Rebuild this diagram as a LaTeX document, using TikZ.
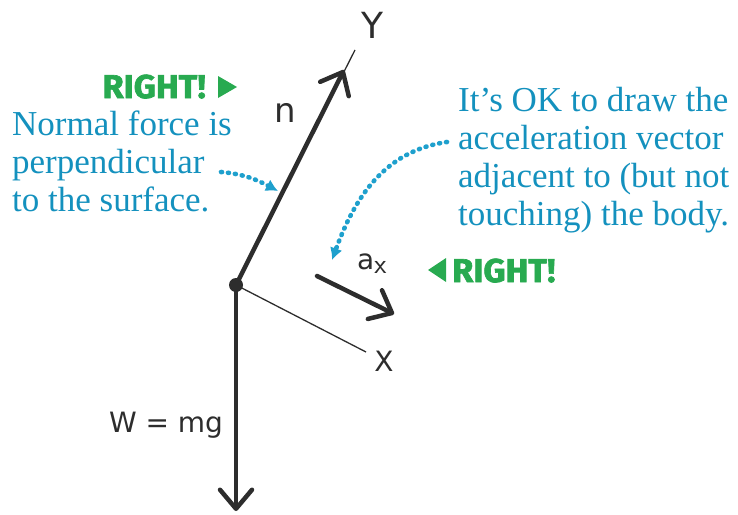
\documentclass[tikz,border=0pt]{standalone}
\usepackage{fontspec}
\setmainfont{Liberation Serif}
\newfontfamily\handfont{DejaVu Sans}
\newfontfamily\rightfont[FakeStretch=1.04,FakeBold=2]{Fira Sans}
\usetikzlibrary{arrows.meta}
\definecolor{tblue}{RGB}{20,145,190}
\definecolor{dblue}{RGB}{30,160,205}
\definecolor{tgreen}{RGB}{40,170,80}
\definecolor{ink}{RGB}{45,45,45}
\begin{document}
\begin{tikzpicture}[x=1pt,y=1pt,
  vec/.style={draw=ink,line width=4.5pt,line cap=round,line join=round,
    -{Straight Barb[length=19pt,width=32pt,line cap=round,line join=round]}},
  axisline/.style={draw=ink,line width=1.3pt},
  hand/.style={text=ink,font=\handfont\fontsize{28}{32}\selectfont,inner sep=0pt},
  note/.style={text=tblue,font=\fontsize{35}{38}\selectfont,align=left,inner sep=0pt},
  rightlbl/.style={text=tgreen,font=\rightfont\bfseries\fontsize{33}{36}\selectfont,inner sep=0pt},
  dots/.style={draw=dblue,line width=4.6pt,line cap=round,dash pattern=on 1pt off 6pt,
    -{Latex[length=12pt,width=13pt]}}]
\useasboundingbox (0,0) rectangle (738,-514);

% body and axes
\coordinate (O) at (236,-285);
\coordinate (yend) at (355,-50);
\coordinate (xend) at (366,-352);
\draw[axisline] (O) -- (yend);
\draw[axisline] (O) -- (xend);
\node[hand,anchor=center,font=\handfont\fontsize{36}{40}\selectfont] (ylab) at (372,-25) {Y};
\node[hand,anchor=center] (xlab) at (384,-361) {X};

% vectors
\coordinate (ntip) at (344,-70);
\coordinate (wtip) at (236,-511);
\draw[vec] (O) -- (ntip);
\draw[vec] (O) -- (wtip);
\coordinate (ax1) at (317,-276);
\coordinate (ax2) at (394,-314);
\draw[vec] (ax1) -- (ax2);
\fill[ink] (O) circle (7);

\node[hand,anchor=center,font=\handfont\fontsize{34}{38}\selectfont] (nlab) at (285,-113) {n};
\node[hand,anchor=center] (axlab) at (372,-264) {a$_{\textsf{x}}$};
\node[hand,anchor=center] (wlab) at (166,-425) {W = mg};

% notes
\node[note,anchor=north west] (leftnote) at (12,-111)
  {Normal force is\\perpendicular\\to the surface.};
\node[note,anchor=north west] (rightnote) at (458,-87)
  {It’s OK to draw the\\acceleration vector\\adjacent to (but not\\touching) the body.};

% RIGHT! labels
\node[rightlbl,anchor=base east] (right1) at (206,-98) {RIGHT!};
\fill[tgreen] (218,-76) -- (218,-98) -- (237,-87) -- cycle;
\node[rightlbl,anchor=base west] (right2) at (452,-282) {RIGHT!};
\fill[tgreen] (446,-258) -- (446,-282) -- (428,-270) -- cycle;

% dotted pointers
\coordinate (d1s) at (221,-172);
\coordinate (d1e) at (278,-191);
\draw[dots] (d1s) to[out=-5,in=152] (d1e);
\coordinate (d2s) at (447,-142);
\coordinate (d2e) at (332,-260);
\draw[dots] (d2s) to[out=188,in=70] (d2e);
\end{tikzpicture}
\end{document}
